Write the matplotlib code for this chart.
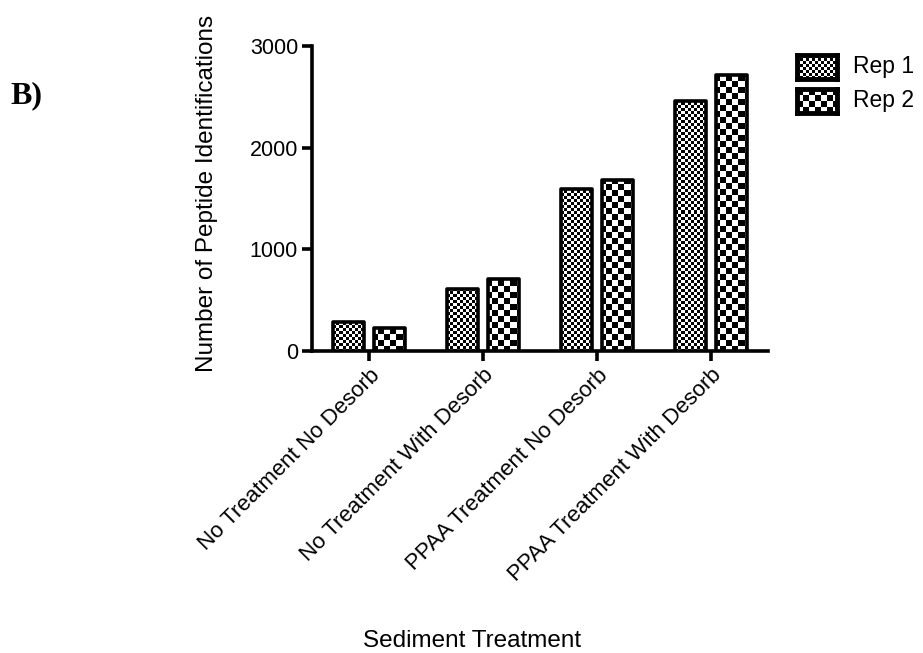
import numpy as np
import matplotlib
matplotlib.use("Agg")
import matplotlib.pyplot as plt

plt.rcParams['font.family'] = ['Liberation Sans', 'DejaVu Sans']

categories = ["No Treatment No Desorb", "No Treatment With Desorb",
              "PPAA Treatment No Desorb", "PPAA Treatment With Desorb"]
rep1 = [290, 610, 1590, 2460]
rep2 = [225, 705, 1680, 2715]
series_names = ["Rep 1", "Rep 2"]
yticks = [0, 1000, 2000, 3000]


def checker(h, w, s):
    i = np.arange(h)[:, None] // s
    j = np.arange(w)[None, :] // s
    return ((i + j) % 2).astype(float)


fig = plt.figure(figsize=(9.23, 6.53), dpi=100)
ax = fig.add_axes([312 / 923, 1 - 351 / 653, 456 / 923, 305 / 653])

x = np.arange(len(categories))
w = 0.28
off = 0.18
bars1 = ax.bar(x - off, rep1, w, facecolor='none', edgecolor='black', linewidth=2.6,
               joinstyle='round', zorder=4)
bars2 = ax.bar(x + off, rep2, w, facecolor='none', edgecolor='black', linewidth=2.6,
               joinstyle='round', zorder=4)

# checkerboard fills, one pixel per array cell
ax.set_xlim(-0.5, 3.5)
ax.set_ylim(0, 3000)
bb = ax.get_window_extent()
H, W = int(round(bb.height)), int(round(bb.width))
for bars, size in [(bars1, 3), (bars2, 6)]:
    pat = checker(H, W, size)
    for b in bars:
        im = ax.imshow(pat, cmap='gray', extent=(0, 1, 0, 1), transform=ax.transAxes,
                       aspect='auto', interpolation='nearest', zorder=3, vmin=0, vmax=1)
        im.set_clip_path(b)
ax.set_xlim(-0.5, 3.5)
ax.set_ylim(0, 3000)

for s in ['top', 'right']:
    ax.spines[s].set_visible(False)
for s in ['left', 'bottom']:
    ax.spines[s].set_linewidth(2.6)
ax.tick_params(width=2.6, length=7, labelsize=15.5, direction='out', pad=3)
ax.set_yticks(yticks)
ax.set_xticks(x)
ax.set_xticklabels(categories, rotation=45, ha='right', rotation_mode='anchor', fontsize=16)

fig.text(207 / 923, 1 - 193 / 653, "Number of Peptide Identifications", rotation=90,
         ha='center', va='center', fontsize=17.5)
fig.text(472 / 923, 1 - 641 / 653, "Sediment Treatment", ha='center', va='center', fontsize=17.5)

fig.text(10 / 923, 1 - 96 / 653, "B)", fontsize=23, fontweight='bold',
         family=['Liberation Serif', 'DejaVu Serif'], ha='left', va='center')

# legend
for k, (name, size) in enumerate(zip(series_names, [3, 6])):
    top = 55 + k * 34
    lax = fig.add_axes([797 / 923, 1 - (top + 24) / 653, 40 / 923, 24 / 653])
    lax.imshow(checker(24, 40, size), cmap='gray', aspect='auto', interpolation='nearest',
               vmin=0, vmax=1)
    lax.set_xticks([])
    lax.set_yticks([])
    for s in lax.spines.values():
        s.set_linewidth(3.5)
    fig.text(853 / 923, 1 - (top + 12) / 653, name, fontsize=16.5, ha='left', va='center')

fig.savefig("out.png", dpi=100)
